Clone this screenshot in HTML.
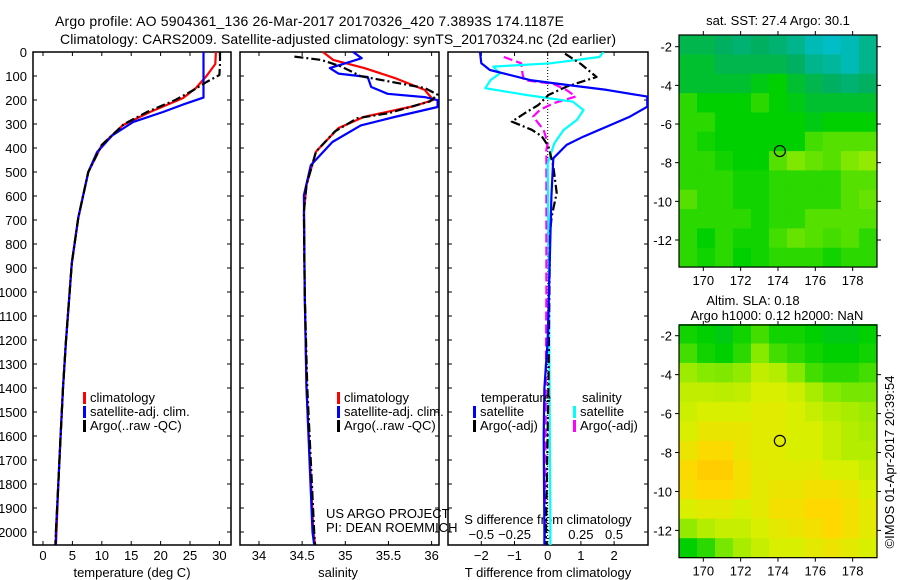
<!DOCTYPE html>
<html><head><meta charset="utf-8"><style>
html,body{margin:0;padding:0;background:#fff;}
svg{display:block;font-family:"Liberation Sans",sans-serif;}
text{font-size:13px;fill:#000;}
</style></head><body>
<svg id="fig" width="900" height="580" viewBox="0 0 900 580">
<text x="55" y="26" textLength="509" style="font-size:14px">Argo profile: AO 5904361_136 26-Mar-2017 20170326_420 7.3893S 174.1187E</text>
<text x="60" y="44" textLength="556" style="font-size:14px">Climatology: CARS2009. Satellite-adjusted climatology: synTS_20170324.nc (2d earlier)</text>
<g id="g1"></g>
<g id="g2"></g>
<g id="g3"></g>
<g id="m1"></g>
<g id="m2"></g>
<text x="0" y="0" transform="translate(894,462) rotate(-90)" text-anchor="middle">©IMOS 01-Apr-2017 20:39:54</text>
</svg>
<script>
// ---- profile data ----
const depthTicks=[0,100,200,300,400,500,600,700,800,900,1000,1100,1200,1300,1400,1500,1600,1700,1800,1900,2000];
const tempTicks=[0,5,10,15,20,25,30];
const salTicks=[34,34.5,35,35.5,36];
const tdTicks=[-2,-1,0,1,2];
const sdTicks=[-0.5,-0.25,0,0.25,0.5];
const tClimD=[0,50,100,150,192,250,304,387,500,690,880,1208,1400,1600,1800,2000,2054];
const tClimV=[29.4,29.3,27.8,26,23.8,18.2,13.6,10,7.7,6,4.9,3.9,3.4,3.0,2.6,2.3,2.2];
const tArgoD=[0,50,96,125,160,200,250,300,387,500,690,880,1208,1400,1600,1800,2000,2054];
const tArgoV=[30.1,30.1,30,27.8,25.5,22.5,17.7,13.8,10,7.7,6,4.9,3.9,3.4,3.0,2.6,2.2,2.1];
const tSatD=[0,100,190,219,250,292,347,417,500,690,880,1208,1400,1600,1800,2000,2054];
const tSatV=[27.3,27.3,27.3,23.8,20.4,15.3,11.8,9.2,7.7,6,4.9,3.9,3.4,3.0,2.6,2.2,2.2];
const sClimD=[0,33,67,108,158,200,225,270,317,415,554,665,1000,1400,2000,2054];
const sClimV=[34.74,34.86,35.22,35.57,35.92,36.02,35.8,35.22,34.92,34.66,34.55,34.52,34.53,34.55,34.63,34.65];
const sArgoD=[19,33,60,101,122,150,178,206,255,276,331,415,554,665,1000,1400,2000,2054];
const sArgoV=[34.41,34.72,34.95,35.18,35.5,35.92,36.07,35.98,35.5,35.14,34.88,34.66,34.55,34.52,34.53,34.56,34.64,34.65];
const sSatD=[0,26,47,67,90,104,146,174,188,201,229,271,306,375,472,597,1000,1400,2000,2054];
const sSatV=[35.09,35.19,35.0,34.82,34.92,35.26,35.3,35.49,35.92,36.07,36.07,35.57,35.18,34.85,34.6,34.52,34.53,34.55,34.62,34.64];
const dTSatD=[0,47,75,117,137,158,186,228,269,311,353,387,443,603,880,1200,1400,1600,2000,2054];
const dTSatV=[-2.04,-2.0,-1.74,-0.53,0.57,1.78,3.0,3.0,2.48,1.78,1.07,0.57,0.17,0.11,0.06,0,-0.1,-0.12,-0.1,-0.1];
const dTArgoD=[7,50,104,144,179,221,254,290,324,351,393,476,587,685,754,1000,1400,2000,2054];
const dTArgoV=[0.52,1.0,1.47,0.57,0.02,-0.28,-0.68,-1.08,-0.48,-0.18,0.02,0.17,0.27,0.12,0.07,0.05,0.02,-0.05,-0.05];
const dSSatD=[0,21,47,61,89,117,151,179,207,242,283,325,381,464,1000,2000,2054];
const dSSatV=[0.42,0.39,0.02,-0.41,-0.36,-0.43,-0.47,-0.16,0.19,0.27,0.22,0.12,0.05,0.0,0.01,0.02,0.02];
const dSArgoD=[21,47,90,117,132,158,186,214,242,269,325,381,408,1000,2000];
const dSArgoV=[-0.33,-0.2,-0.19,-0.18,0.04,0.14,0.21,0.04,-0.06,-0.11,-0.03,0.0,-0.01,-0.01,-0.02];
// ---- map data (rows north->south, cols west->east) ----
const lonTicks=[170,172,174,176,178];
const latTicks=[-2,-4,-6,-8,-10,-12];
const sstGrid=[
[0.42,0.42,0.40,0.38,0.40,0.38,0.35,0.30,0.28,0.30,0.35],
[0.45,0.45,0.42,0.42,0.42,0.42,0.40,0.35,0.33,0.30,0.35],
[0.45,0.45,0.45,0.45,0.48,0.50,0.45,0.42,0.40,0.38,0.40],
[0.55,0.50,0.50,0.50,0.55,0.50,0.48,0.45,0.45,0.45,0.45],
[0.55,0.55,0.50,0.50,0.50,0.50,0.50,0.48,0.50,0.50,0.50],
[0.55,0.52,0.50,0.50,0.50,0.50,0.50,0.58,0.60,0.60,0.60],
[0.55,0.55,0.52,0.50,0.50,0.60,0.65,0.62,0.60,0.65,0.68],
[0.55,0.55,0.55,0.52,0.52,0.55,0.55,0.55,0.55,0.60,0.60],
[0.60,0.55,0.55,0.52,0.52,0.55,0.55,0.55,0.55,0.60,0.62],
[0.55,0.55,0.55,0.55,0.52,0.55,0.55,0.60,0.60,0.60,0.60],
[0.55,0.50,0.55,0.52,0.52,0.58,0.62,0.60,0.58,0.60,0.55],
[0.55,0.52,0.55,0.50,0.52,0.55,0.55,0.55,0.52,0.55,0.55]];
const slaGrid=[
[0.52,0.50,0.48,0.52,0.58,0.52,0.52,0.50,0.48,0.48,0.50],
[0.58,0.52,0.50,0.55,0.66,0.58,0.55,0.52,0.50,0.50,0.52],
[0.70,0.66,0.65,0.68,0.76,0.74,0.66,0.58,0.55,0.55,0.58],
[0.76,0.76,0.75,0.76,0.80,0.80,0.78,0.72,0.66,0.64,0.64],
[0.78,0.80,0.80,0.80,0.82,0.82,0.80,0.77,0.74,0.72,0.70],
[0.80,0.84,0.84,0.84,0.82,0.82,0.80,0.80,0.77,0.74,0.72],
[0.85,0.89,0.89,0.85,0.82,0.82,0.80,0.80,0.77,0.74,0.74],
[0.89,0.92,0.92,0.87,0.83,0.82,0.82,0.83,0.80,0.80,0.77],
[0.87,0.90,0.90,0.87,0.83,0.85,0.85,0.87,0.87,0.85,0.80],
[0.80,0.83,0.83,0.80,0.83,0.87,0.87,0.90,0.90,0.87,0.83],
[0.68,0.74,0.77,0.77,0.80,0.83,0.85,0.87,0.90,0.87,0.83],
[0.50,0.55,0.64,0.72,0.77,0.80,0.80,0.83,0.85,0.83,0.80]];
const argoPos=[174.1,-7.4];

const NS='http://www.w3.org/2000/svg';
function mk(p,tag,at,txt){const e=document.createElementNS(NS,tag);for(const k in at)e.setAttribute(k,at[k]);if(txt!==undefined)e.textContent=txt;p.appendChild(e);return e;}
const PT=52,PB=545;
const yD=d=>PT+d*0.24;
function frame(g,x0,x1){
  const r=mk(g,'rect',{x:x0,y:PT,width:x1-x0,height:PB-PT,fill:'none',stroke:'#000','stroke-width':1.5});
  
  
  depthTicks.forEach(d=>{
    mk(g,'line',{x1:x0,x2:x0+4,y1:yD(d),y2:yD(d),stroke:'#000'});
    mk(g,'line',{x1:x1-4,x2:x1,y1:yD(d),y2:yD(d),stroke:'#000'});
  });
}
function xticks(g,vals,fx,labY,bottom,top){
  vals.forEach(v=>{const x=fx(v);
    if(bottom){mk(g,'line',{x1:x,x2:x,y1:PB,y2:PB-4,stroke:'#000'});}
    if(top){mk(g,'line',{x1:x,x2:x,y1:PT,y2:PT+4,stroke:'#000'});}
    if(labY){const t=mk(g,'text',{x:x,y:labY,'text-anchor':'middle'},String(v).replace('-','\u2212'));
      
      }
  });
}
function line(g,D,V,fx,col,dash,name){
  const pts=D.map((d,i)=>fx(V[i]).toFixed(1)+','+yD(d).toFixed(1)).join(' ');
  const a={points:pts,fill:'none',stroke:col,'stroke-width':2.2,'stroke-linejoin':'round'};
  if(dash)a['stroke-dasharray']=dash;
  const l=mk(g,'polyline',a);
  
  
}
function legend(g,x,y,items){
  items.forEach((it,i)=>{
    mk(g,'rect',{x:x,y:y+i*14-10,width:3,height:12,fill:it[1]});
    const t=mk(g,'text',{x:x+7,y:y+i*14},it[0]);
    
    
  });
}
// Panel 1 temperature
const g1=document.getElementById('g1');
const xT=v=>43+v*5.88;
frame(g1,33,231);
depthTicks.forEach(d=>{const t=mk(g1,'text',{x:27,y:yD(d)+5,'text-anchor':'end'},d);
  
  });
xticks(g1,tempTicks,xT,560,true,true);
const xl1=mk(g1,'text',{x:132,y:577,'text-anchor':'middle'},'temperature (deg C)');


line(g1,tClimD,tClimV,xT,'#ff0000',null,'temp-climatology');
line(g1,tSatD,tSatV,xT,'#0000ff',null,'temp-satellite');
line(g1,tArgoD,tArgoV,xT,'#000000','9,3,2,3','temp-argo');
legend(g1,83,402,[['climatology','#f00'],['satellite-adj. clim.','#00f'],['Argo(..raw -QC)','#000']]);
// Panel 2 salinity
const g2=document.getElementById('g2');
const xS=v=>259+(v-34)*86.3;
frame(g2,240,439);
xticks(g2,salTicks,xS,560,true,true);
const xl2=mk(g2,'text',{x:338,y:577,'text-anchor':'middle'},'salinity');


line(g2,sClimD,sClimV,xS,'#ff0000',null,'sal-climatology');
line(g2,sSatD,sSatV,xS,'#0000ff',null,'sal-satellite');
line(g2,sArgoD,sArgoV,xS,'#000000','9,3,2,3','sal-argo');
legend(g2,337,402,[['climatology','#f00'],['satellite-adj. clim.','#00f'],['Argo(..raw -QC)','#000']]);
const p1=mk(g2,'text',{x:326,y:518},'US ARGO PROJECT');
const p2=mk(g2,'text',{x:326,y:532},'PI: DEAN ROEMMICH');
// Panel 3 differences
const g3=document.getElementById('g3');
const cg=mk(g3,'clipPath',{id:'c3'});mk(cg,'rect',{x:448,y:PT,width:200,height:PB-PT});
const xDT=v=>547.7+v*33.2;
const xDS=v=>547.7+v*132.7;
frame(g3,448,648);
mk(g3,'line',{x1:xDT(0),x2:xDT(0),y1:PT,y2:PB,stroke:'#000','stroke-dasharray':'1,2'});
xticks(g3,tdTicks,xDT,560,true,false);
xticks(g3,sdTicks,xDS,539,false,true);
const st=mk(g3,'text',{x:548,y:524,'text-anchor':'middle'},'S difference from climatology');
const tt=mk(g3,'text',{x:548,y:577,'text-anchor':'middle'},'T difference from climatology');
const lg=mk(g3,'g',{'clip-path':'url(#c3)'});
line(lg,dSArgoD,dSArgoV,xDS,'#ff00ff','9,4','sdiff-argo');
line(lg,dSSatD,dSSatV,xDS,'#00ffff',null,'sdiff-satellite');
line(lg,dTArgoD,dTArgoV,xDT,'#000000','9,3,2,3','tdiff-argo');
line(lg,dTSatD,dTSatV,xDT,'#0000ff',null,'tdiff-satellite');
const h1=mk(g3,'text',{x:481,y:402},'temperature');
const h2=mk(g3,'text',{x:582,y:402},'salinity');
legend(g3,473,416,[['satellite','#00f'],['Argo(-adj)','#000']]);
legend(g3,573,416,[['satellite','#0ff'],['Argo(-adj)','#f0f']]);
// Maps
function cmap(v){
  const s=[[0,[0,64,255]],[0.25,[0,192,224]],[0.4,[0,176,96]],[0.5,[0,208,0]],[0.65,[128,232,0]],[0.8,[216,240,0]],[0.9,[255,216,0]],[1,[255,160,0]]];
  for(let i=1;i<s.length;i++){if(v<=s[i][0]){const t=(v-s[i-1][0])/(s[i][0]-s[i-1][0]);const a=s[i-1][1],b=s[i][1];
    return 'rgb('+a.map((c,k)=>Math.round(c+(b[k]-c)*t)).join(',')+')';}}
  return 'rgb(255,160,0)';
}
function drawMap(id,grid,top,lat2y,titles){
  const g=document.getElementById(id);
  const X0=679,X1=877;
  const lonX=l=>703.3+(l-170)*18.67;
  const latY=lat2y;
  const lon0=168.7,lat0=-1.4;
  const nr=grid.length,nc=grid[0].length;
  const dlon=(179.3-lon0)/nc,dlat=12/nr;
  grid.forEach((row,r)=>row.forEach((v,c)=>{
    const x=lonX(lon0+c*dlon),y=latY(lat0-r*dlat);
    const cell=mk(g,'rect',{x:x,y:y,width:lonX(lon0+(c+1)*dlon)-x+0.5,height:latY(lat0-(r+1)*dlat)-y+0.5,fill:cmap(v)});
    
    
  }));
  const yb=latY(-13.4);
  mk(g,'rect',{x:X0,y:top,width:X1-X0,height:yb-top,fill:'none',stroke:'#000','stroke-width':1.2});
  lonTicks.forEach(l=>{const x=lonX(l);mk(g,'line',{x1:x,x2:x,y1:top,y2:top-4,stroke:'#000'});mk(g,'line',{x1:x,x2:x,y1:yb,y2:yb+4,stroke:'#000'});
    const t=mk(g,'text',{x:x,y:yb+18,'text-anchor':'middle'},l);});
  latTicks.forEach(l=>{const y=latY(l);mk(g,'line',{x1:X0-4,x2:X0,y1:y,y2:y,stroke:'#000'});mk(g,'line',{x1:X1,x2:X1+4,y1:y,y2:y,stroke:'#000'});
    const t=mk(g,'text',{x:X0-7,y:y+5,'text-anchor':'end'},String(l));});
  const c=mk(g,'circle',{cx:lonX(argoPos[0]),cy:latY(argoPos[1]),r:5.5,fill:'none',stroke:'#000','stroke-width':1.2});
  
  
  titles.forEach(t=>{const e=mk(g,'text',{x:t[0],y:t[1],'text-anchor':'middle'},t[2]);});
}
drawMap('m1',sstGrid,35,l=>46.7+(-2-l)*19.33,[[778,25,'sat. SST: 27.4  Argo: 30.1']]);
drawMap('m2',slaGrid,325,l=>335.7+(-2-l)*19.47,[[753,305,'Altim. SLA: 0.18'],[777,320,'Argo h1000: 0.12 h2000: NaN']]);
</script>
</body></html>
